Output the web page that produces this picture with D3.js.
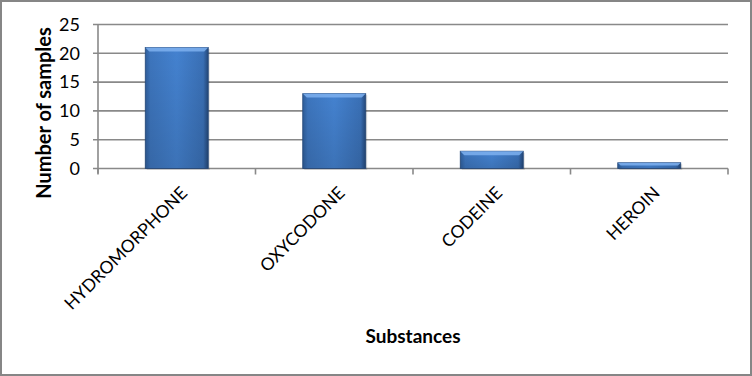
<!DOCTYPE html>
<html>
<head>
<meta charset="utf-8">
<script src="https://cdn.jsdelivr.net/npm/d3@7"></script>
<style>
  body { margin: 0; background: #fff; }
  svg { display: block; font-family: Lato, "Open Sans", sans-serif; }
</style>
</head>
<body>
<svg width="752" height="376"></svg>
<script>
var substances = ["HYDROMORPHONE", "OXYCODONE", "CODEINE", "HEROIN"];
var samples = [21, 13, 3, 1];
var yTicks = [0, 5, 10, 15, 20, 25];

var svg = d3.select("svg"),
    margin = {top: 24.5, right: 24, bottom: 207.5, left: 98},
    width = svg.attr("width") - margin.left - margin.right,
    height = svg.attr("height") - margin.top - margin.bottom;

// chart border
svg.append("rect")
    .attr("x", 1).attr("y", 1)
    .attr("width", 750).attr("height", 374)
    .attr("fill", "#fff")
    .attr("stroke", "#868686")
    .attr("stroke-width", 2);

var defs = svg.append("defs");
var grad = defs.append("linearGradient").attr("id", "barfill")
    .attr("x1", "0").attr("x2", "1").attr("y1", "0").attr("y2", "0");
grad.append("stop").attr("offset", "0").attr("stop-color", "#2f5e9b");
grad.append("stop").attr("offset", "0.08").attr("stop-color", "#3d75bd");
grad.append("stop").attr("offset", "0.5").attr("stop-color", "#4482d0");
grad.append("stop").attr("offset", "0.92").attr("stop-color", "#3a70b6");
grad.append("stop").attr("offset", "1").attr("stop-color", "#24487a");

var vgrad = defs.append("linearGradient").attr("id", "barshade")
    .attr("x1", "0").attr("x2", "0").attr("y1", "0").attr("y2", "1");
vgrad.append("stop").attr("offset", "0").attr("stop-color", "#000").attr("stop-opacity", 0);
vgrad.append("stop").attr("offset", "1").attr("stop-color", "#000").attr("stop-opacity", 0.12);

var x = d3.scaleBand()
    .domain(substances)
    .range([0, width])
    .paddingInner(0.6)
    .paddingOuter(0.3);

var y = d3.scaleLinear()
    .domain([0, 25])
    .range([height, 0]);

var g = svg.append("g")
    .attr("transform", "translate(" + margin.left + "," + margin.top + ")");

// gridlines
g.append("g")
    .selectAll("line").data(yTicks).enter().append("line")
    .attr("x1", -5).attr("x2", width)
    .attr("y1", d => y(d)).attr("y2", d => y(d))
    .attr("stroke", "#898989")
    .attr("stroke-width", 1.6);

// y axis
var yAxis = g.append("g")
    .call(d3.axisLeft(y).tickValues(yTicks).tickSize(0).tickPadding(18));
yAxis.select(".domain").remove();
yAxis.selectAll("text")
    .attr("font-size", 18)
    .attr("fill", "#000")
    .attr("font-family", "Lato, sans-serif");

g.append("line")
    .attr("x1", 0).attr("x2", 0)
    .attr("y1", 0).attr("y2", height + 5)
    .attr("stroke", "#898989").attr("stroke-width", 1.6);

// category boundary ticks
g.append("g")
    .selectAll("line").data(d3.range(substances.length + 1)).enter().append("line")
    .attr("x1", d => d * width / substances.length)
    .attr("x2", d => d * width / substances.length)
    .attr("y1", height).attr("y2", height + 6)
    .attr("stroke", "#898989").attr("stroke-width", 1.6);

// bars
var bars = g.append("g").selectAll("g").data(substances).enter().append("g");

bars.append("rect")
    .attr("x", d => x(d) + 1.5)
    .attr("y", (d, i) => y(samples[i]) + 1.5)
    .attr("width", x.bandwidth())
    .attr("height", (d, i) => height - y(samples[i]))
    .attr("fill", "#000").attr("opacity", 0.12);

bars.append("rect")
    .attr("x", d => x(d))
    .attr("y", (d, i) => y(samples[i]))
    .attr("width", x.bandwidth())
    .attr("height", (d, i) => height - y(samples[i]))
    .attr("fill", "url(#barfill)")
    .attr("stroke", "#26497a")
    .attr("stroke-width", 0.8);

bars.append("rect")
    .attr("x", d => x(d))
    .attr("y", (d, i) => y(samples[i]))
    .attr("width", x.bandwidth())
    .attr("height", (d, i) => height - y(samples[i]))
    .attr("fill", "url(#barshade)");

// top bevel highlight
bars.append("path")
    .attr("d", function(d, i) {
      var x0 = x(d), x1 = x(d) + x.bandwidth(), t = y(samples[i]);
      var b = Math.min(4, (height - t) / 2);
      return "M" + x0 + "," + t + "L" + x1 + "," + t +
             "L" + (x1 - b) + "," + (t + b) + "L" + (x0 + b) + "," + (t + b) + "Z";
    })
    .attr("fill", "#7eb0ee").attr("opacity", 0.85);

// category labels
g.append("g")
    .selectAll("text").data(substances).enter().append("text")
    .attr("transform", d => "translate(" + (x(d) + x.bandwidth() / 2 + 3) + "," + (height + 17) + ") rotate(-45)")
    .attr("text-anchor", "end")
    .attr("dy", "0.7em")
    .attr("font-size", 17.5)
    .attr("fill", "#000")
    .text(d => d);

// axis titles
svg.append("text")
    .attr("transform", "translate(51,113) rotate(-90)")
    .attr("text-anchor", "middle")
    .attr("font-size", 20)
    .attr("font-weight", "bold")
    .text("Number of samples");

svg.append("text")
    .attr("x", margin.left + width / 2)
    .attr("y", 343)
    .attr("text-anchor", "middle")
    .attr("font-size", 19)
    .attr("font-weight", "bold")
    .text("Substances");
</script>
</body>
</html>
